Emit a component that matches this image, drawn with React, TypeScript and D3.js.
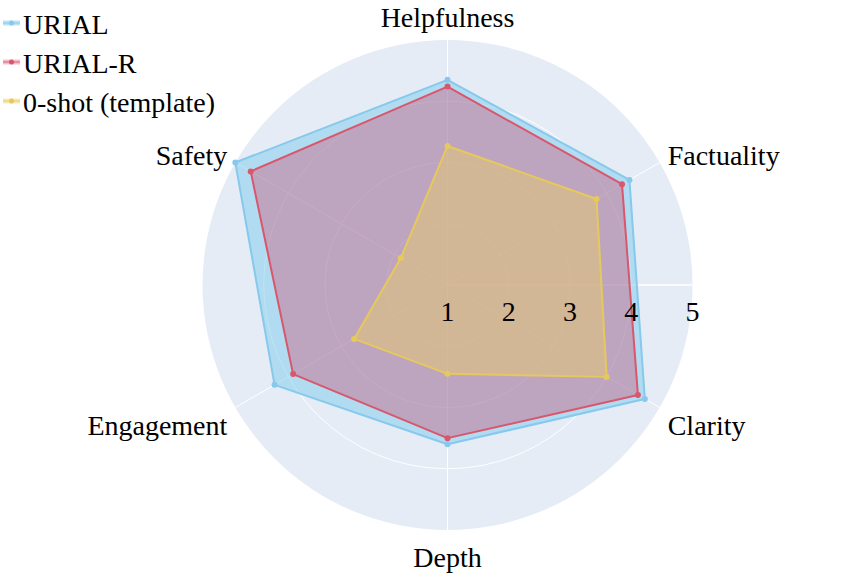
import React from "react";
import * as d3 from "d3";

const categories = ["Helpfulness", "Factuality", "Clarity", "Depth", "Engagement", "Safety"];
const urial = [4.35, 4.43, 4.72, 3.6, 4.26, 5.0];
const urialR = [4.24, 4.29, 4.59, 3.5, 3.91, 4.71];
const zeroShot = [3.27, 3.81, 4.0, 2.45, 2.76, 1.88];
const radialTicks = [1, 2, 3, 4, 5];
const seriesNames = ["URIAL", "URIAL-R", "0-shot (template)"];

const W = 867;
const H = 578;
const cx = 447.5;
const cy = 285;
const R = 245;
const FONT = "'Liberation Serif', 'Times New Roman', Times, serif";

const styles = [
  { stroke: "#86c9ec", fill: "rgba(135,206,235,0.55)" },
  { stroke: "#d9566c", fill: "rgba(220,40,80,0.3)" },
  { stroke: "#e6c95c", fill: "rgba(236,208,92,0.42)" },
];

export default function App() {
  const r = d3.scaleLinear().domain([1, 5]).range([0, R]);
  const n = categories.length;
  const ang = (i: number) => (i * 2 * Math.PI) / n; // clockwise from top
  const line = d3
    .lineRadial<number>()
    .angle((_, i) => ang(i))
    .radius((d) => r(d))
    .curve(d3.curveLinearClosed);
  const pt = (i: number, v: number) => {
    const a = ang(i);
    return [Math.sin(a) * r(v), -Math.cos(a) * r(v)];
  };
  const series = [urial, urialR, zeroShot];
  const ts = { fontFamily: FONT, fontSize: "28px" };

  return (
    <svg
      width={W}
      height={H}
      style={{ position: "absolute", left: 0, top: 0, background: "#fff" }}
    >
      <g transform={`translate(${cx},${cy})`}>
        <circle r={R} fill="#E5ECF6" />
        {radialTicks.slice(1, -1).map((t) => (
          <circle key={t} r={r(t)} fill="none" stroke="#fff" strokeWidth={1} />
        ))}
        {categories.map((c, i) => {
          const [x, y] = pt(i, 5);
          return <line key={c} x1={0} y1={0} x2={x} y2={y} stroke="#fff" strokeWidth={1} />;
        })}
        <line x1={0} y1={0} x2={R} y2={0} stroke="#fff" strokeWidth={1.5} />
        {series.map((s, k) => (
          <g key={k}>
            <path d={line(s) || ""} fill={styles[k].fill} stroke={styles[k].stroke} strokeWidth={2} strokeLinejoin="round" />
            {s.map((v, i) => {
              const [x, y] = pt(i, v);
              return <circle key={i} cx={x} cy={y} r={3} fill={styles[k].stroke} />;
            })}
          </g>
        ))}
        {radialTicks.map((t) => (
          <text key={t} x={r(t)} y={36} textAnchor="middle" style={ts} fill="#000">
            {t}
          </text>
        ))}
        {categories.map((c, i) => {
          const a = ang(i);
          const sx = Math.sin(a);
          const sy = -Math.cos(a);
          const ex = sx * R;
          const ey = sy * R;
          const side = Math.abs(sx) > 0.1;
          const anchor = side ? (sx > 0 ? "start" : "end") : "middle";
          const x = ex + (side ? Math.sign(sx) * 8 : 0);
          const y = ey + 25 * sy + 12 + (side ? 3 : 0);
          return (
            <text key={c} x={x} y={y} textAnchor={anchor} style={ts} fill="#000">
              {c}
            </text>
          );
        })}
      </g>
      <g>
        {seriesNames.map((name, k) => {
          const yc = 23 + k * 39;
          return (
            <g key={name}>
              <rect x={3} y={yc - 2.5} width={17} height={5} fill={styles[k].fill} />
              <line x1={3} x2={20} y1={yc} y2={yc} stroke={styles[k].stroke} strokeWidth={1.5} opacity={0.6} />
              <circle cx={11.5} cy={yc} r={2.5} fill={styles[k].stroke} />
              <text x={23} y={yc + 11} style={ts} fill="#000">
                {name}
              </text>
            </g>
          );
        })}
      </g>
    </svg>
  );
}
